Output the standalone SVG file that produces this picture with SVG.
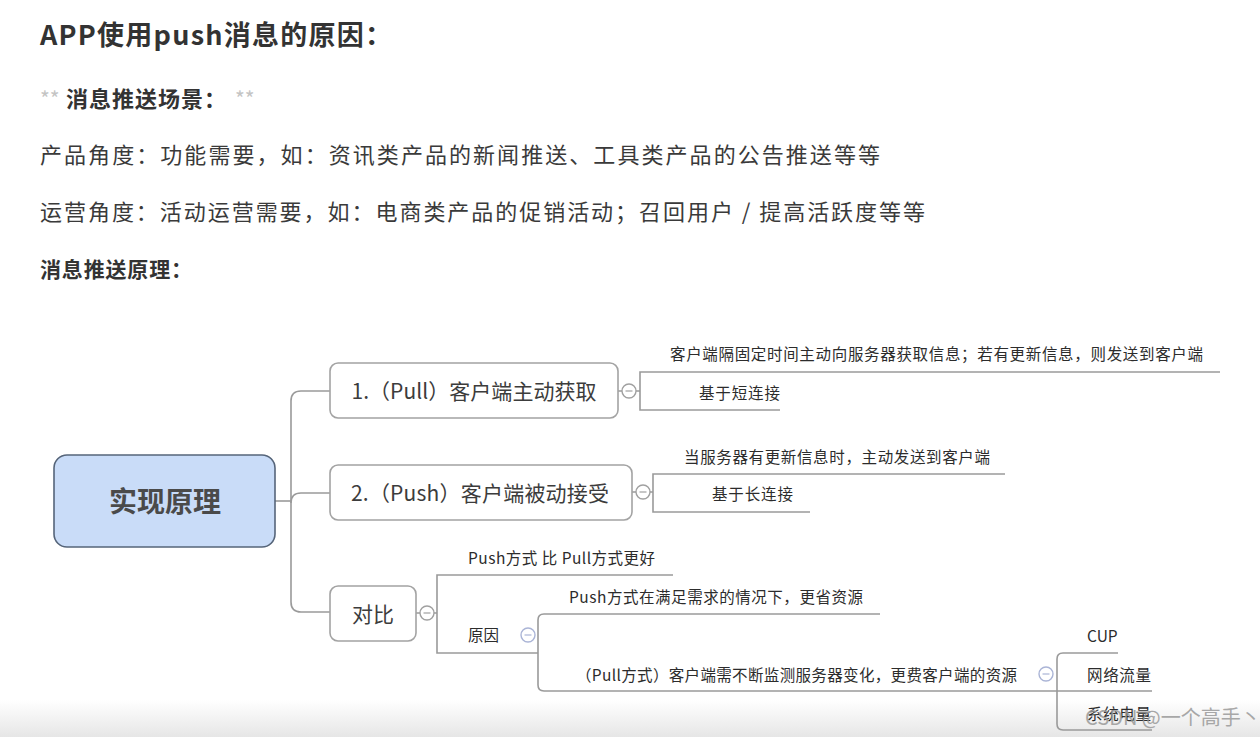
<svg xmlns="http://www.w3.org/2000/svg" width="1260" height="737" viewBox="0 0 1260 737">
<defs>
<linearGradient id="bot" x1="0" y1="0" x2="0" y2="1">
<stop offset="0" stop-color="#ffffff"/>
<stop offset="1" stop-color="#e6e6e6"/>
</linearGradient>
</defs>
<style>
text{font-family:"Noto Sans CJK SC","Liberation Sans",sans-serif;fill:#333}
.h{font-weight:bold}
.body{font-size:22px;fill:#3a3a3a}
.node{fill:#fff;stroke:#a3a3a3;stroke-width:1.6}
.nt{font-size:21px;fill:#3c3c3c}
.lt{font-size:15.5px;fill:#2c2c2c}
.ln{fill:none;stroke:#9a9a9a;stroke-width:1.6}
.cc{fill:#fff;stroke:#a0a0a0;stroke-width:1.4}
.cb{fill:#fff;stroke:#aab4d6;stroke-width:1.4}
.mn{stroke:#a0a0a0;stroke-width:1.2}
.mb{stroke:#aab4d6;stroke-width:1.2}
</style>
<rect width="1260" height="737" fill="#fff"/>
<rect x="0" y="700" width="1260" height="37" fill="url(#bot)"/>

<g id="intro">
<text class="h" x="40" y="45" font-size="27" textLength="352">APP使用push消息的原因：</text>
<text x="40" y="107" font-size="21" fill="#c4c4c4" style="fill:#c4c4c4">**</text>
<text class="h" x="66" y="107" font-size="22" textLength="160">消息推送场景：</text>
<text x="235" y="107" font-size="21" fill="#c4c4c4" style="fill:#c4c4c4">**</text>
<text class="body" x="40" y="163" textLength="840">产品角度：功能需要，如：资讯类产品的新闻推送、工具类产品的公告推送等等</text>
<text class="body" x="40" y="220" textLength="885">运营角度：活动运营需要，如：电商类产品的促销活动；召回用户 / 提高活跃度等等</text>
<text class="h" x="40" y="277" font-size="21" textLength="152">消息推送原理：</text>
</g>

<g id="connectors">
<path class="ln" d="M275 501 H291"/>
<path class="ln" d="M330 391 H301 Q291 391 291 401 V602 Q291 612 301 612 H330"/>
<path class="ln" d="M291 503 Q291 493 301 493 H330"/>
<path class="ln" d="M618 391 H622 M636 391 H640"/>
<path class="ln" d="M1220 372 H640 V410 H780"/>
<path class="ln" d="M632 492 H636 M650 492 H653"/>
<path class="ln" d="M1005 474 H653 V512 H810"/>
<path class="ln" d="M416 613 H420 M434 613 H437"/>
<path class="ln" d="M673 575 H437 V653 H538"/>
<path class="ln" d="M880 614 H544 Q538 614 538 620 V685 Q538 691 544 691 H1057"/>
<path class="ln" d="M1118 653 H1063 Q1057 653 1057 659 V724 Q1057 730 1063 730 H1152 M1057 691 H1152"/>
</g>

<g id="root">
<rect x="54" y="455" width="221" height="92" rx="13" fill="#c9dcf8" stroke="#56657a" stroke-width="1.6"/>
<text x="165" y="512" font-size="28" font-weight="bold" text-anchor="middle" style="fill:#4a4a4a">实现原理</text>
</g>

<g id="pull">
<rect class="node" x="330" y="363" width="288" height="55" rx="8"/>
<text class="nt" x="474" y="399" text-anchor="middle" textLength="245">1.（Pull）客户端主动获取</text>
<circle class="cc" cx="629" cy="391" r="7"/><path class="mn" d="M625.5 391 H632.5"/>
</g>
<g id="pull-desc"><text class="lt" x="670" y="360" textLength="533">客户端隔固定时间主动向服务器获取信息；若有更新信息，则发送到客户端</text></g>
<g id="pull-short"><text class="lt" x="699" y="399" textLength="81">基于短连接</text></g>

<g id="push">
<rect class="node" x="330" y="465" width="302" height="55" rx="8"/>
<text class="nt" x="480" y="501" text-anchor="middle" textLength="258">2.（Push）客户端被动接受</text>
<circle class="cc" cx="643" cy="492" r="7"/><path class="mn" d="M639.5 492 H646.5"/>
</g>
<g id="push-desc"><text class="lt" x="684" y="463" textLength="306">当服务器有更新信息时，主动发送到客户端</text></g>
<g id="push-long"><text class="lt" x="712" y="500" textLength="81">基于长连接</text></g>

<g id="compare">
<rect class="node" x="330" y="586" width="86" height="55" rx="8"/>
<text class="nt" x="373" y="622" text-anchor="middle">对比</text>
<circle class="cc" cx="427" cy="613" r="7"/><path class="mn" d="M423.5 613 H430.5"/>
</g>
<g id="better"><text class="lt" x="468" y="564" textLength="187">Push方式 比 Pull方式更好</text></g>
<g id="reason">
<text class="lt" x="468" y="641">原因</text>
<circle class="cb" cx="528" cy="635" r="7"/><path class="mb" d="M524.5 635 H531.5"/>
</g>
<g id="reason-push"><text class="lt" x="569" y="603" textLength="294">Push方式在满足需求的情况下，更省资源</text></g>
<g id="reason-pull">
<text class="lt" x="576" y="681" textLength="441">（Pull方式）客户端需不断监测服务器变化，更费客户端的资源</text>
<circle class="cb" cx="1046" cy="674" r="7"/><path class="mb" d="M1042.5 674 H1049.5"/>
</g>
<g id="cup"><text class="lt" x="1087" y="642">CUP</text></g>
<g id="net"><text class="lt" x="1087" y="681" textLength="64">网络流量</text></g>
<g id="power"><text class="lt" x="1087" y="720" textLength="64">系统电量</text></g>

<text x="1085" y="725" font-size="20" style="fill:#9a9a9a" opacity="0.85">CSDN @一个高手丶</text>
</svg>
